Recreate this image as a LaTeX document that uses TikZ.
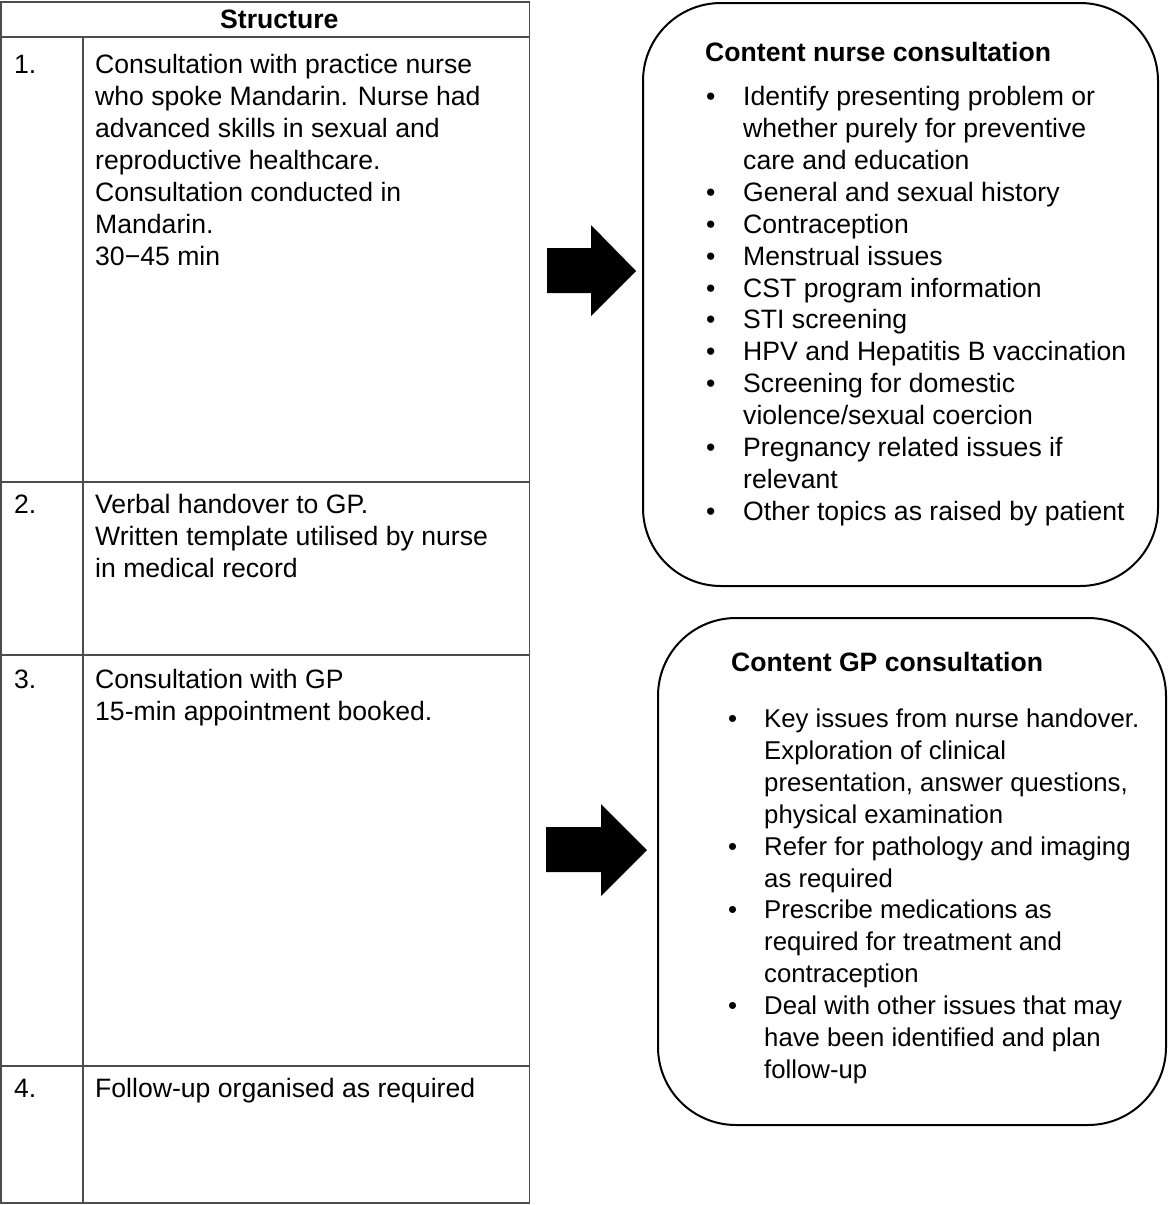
\documentclass[tikz,border=0pt]{standalone}
\usepackage{fontspec}
\setmainfont{Liberation Sans}
\begin{document}
\begin{tikzpicture}[x=1pt,y=-1pt,
  txt/.style={anchor=base west, inner sep=0pt, font=\fontsize{26.6}{32}\selectfont},
  stxt/.style={anchor=base west, inner sep=0pt, font=\fontsize{25.75}{32}\selectfont},
  btxt/.style={txt, font=\fontsize{26.6}{32}\selectfont\bfseries},
  grid/.style={draw=black!70, line width=1.3pt},
  roundbox/.style={draw=black, line width=2pt, rounded corners=78pt},
  fatarrow/.style={fill=black, draw=none}]
\useasboundingbox (0,0) rectangle (1168,1205);
% table
\draw[grid] (1,2) rectangle (529.5,1203);
\draw[grid] (1,37) -- (529.5,37);
\draw[grid] (1,482) -- (529.5,482);
\draw[grid] (1,655) -- (529.5,655);
\draw[grid] (1,1066) -- (529.5,1066);
\draw[grid] (83,37) -- (83,1203);
\node[btxt] (hdr) at (220,28.5) {Structure};
% row 1
\node[txt] (n1) at (14,73.5) {1.};
\foreach \t [count=\i from 0] in {Consultation with practice nurse,
  who spoke Mandarin. Nurse had,
  advanced skills in sexual and,
  reproductive healthcare.,
  Consultation conducted in,
  Mandarin.,
  30−45 min}
  \node[txt] (r1l\i) at (95,73.5+32*\i) {\t};
% row 2
\node[txt] (n2) at (14,513.5) {2.};
\foreach \t [count=\i from 0] in {Verbal handover to GP.,
  Written template utilised by nurse,
  in medical record}
  \node[txt] (r2l\i) at (95,513.5+32*\i) {\t};
% row 3
\node[txt] (n3) at (14,688.5) {3.};
\node[txt] (r3l0) at (95,688.5) {Consultation with GP};
\node[txt] (r3l1) at (95,720.5) {15-min appointment booked.};
% row 4
\node[txt] (n4) at (14,1097.5) {4.};
\node[txt] (r4l0) at (95,1097.5) {Follow-up organised as required};
% arrows
\fill[fatarrow] (547,248) -- (591,248) -- (591,225) -- (636,271) -- (591,316) -- (591,293) -- (547,293) -- cycle;
\fill[fatarrow] (546,827) -- (601,827) -- (601,804) -- (647,850) -- (601,896) -- (601,872) -- (546,872) -- cycle;
% box 1
\draw[roundbox] (643,3) rectangle (1158,586);
\node[btxt] (t1) at (705,61.5) {Content nurse consultation};
\foreach \t [count=\i from 0] in {Identify presenting problem or,
  whether purely for preventive,
  care and education,
  General and sexual history,
  Contraception,
  Menstrual issues,
  CST program information,
  STI screening,
  HPV and Hepatitis B vaccination,
  Screening for domestic,
  violence/sexual coercion,
  Pregnancy related issues if,
  relevant,
  Other topics as raised by patient}
  \node[txt] (b1l\i) at (743,105.5+31.92*\i) {\t};
\foreach \i in {0,3,4,5,6,7,8,9,11,13}
  \node[txt] (b1d\i) at (706,105.5+31.92*\i) {\textbullet};
% box 2
\draw[roundbox] (658,618) rectangle (1166,1125);
\node[btxt] (t2) at (731,671.5) {Content GP consultation};
\foreach \t [count=\i from 0] in {Key issues from nurse handover.,
  Exploration of clinical,
  {presentation, answer questions,},
  physical examination,
  Refer for pathology and imaging,
  as required,
  Prescribe medications as,
  required for treatment and,
  contraception,
  Deal with other issues that may,
  have been identified and plan,
  follow-up}
  \node[stxt] (b2l\i) at (764,727.5+31.9*\i) {\t};
\foreach \i in {0,4,6,9}
  \node[stxt] (b2d\i) at (728,727.5+31.9*\i) {\textbullet};
\end{tikzpicture}
\end{document}
